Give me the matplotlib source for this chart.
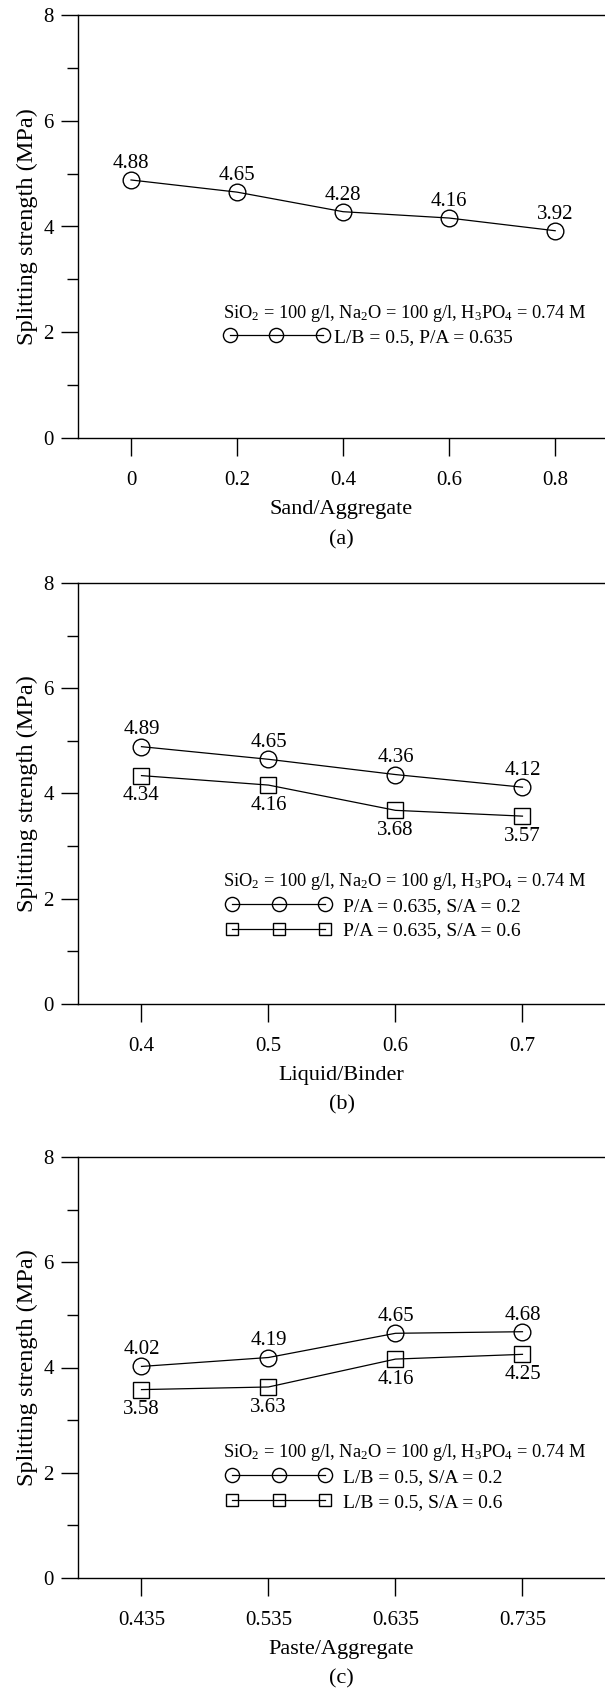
import matplotlib
matplotlib.use('Agg')
import matplotlib.pyplot as plt
from matplotlib.ticker import MultipleLocator

plt.rcParams['font.family'] = ['Liberation Serif', 'DejaVu Serif']
plt.rcParams['mathtext.fontset'] = 'custom'
plt.rcParams['mathtext.rm'] = 'Liberation Serif'
plt.rcParams['mathtext.it'] = 'Liberation Serif:italic'

# (a) Sand/Aggregate
sa_x = [0, 0.2, 0.4, 0.6, 0.8]
sa_y = [4.88, 4.65, 4.28, 4.16, 3.92]
sa_ticks = ['0', '0.2', '0.4', '0.6', '0.8']

# (b) Liquid/Binder
lb_x = [0.4, 0.5, 0.6, 0.7]
lb_s02 = [4.89, 4.65, 4.36, 4.12]
lb_s06 = [4.34, 4.16, 3.68, 3.57]
lb_ticks = ['0.4', '0.5', '0.6', '0.7']

# (c) Paste/Aggregate
pa_x = [0.435, 0.535, 0.635, 0.735]
pa_s02 = [4.02, 4.19, 4.65, 4.68]
pa_s06 = [3.58, 3.63, 4.16, 4.25]
pa_ticks = ['0.435', '0.535', '0.635', '0.735']

header = r'SiO$_2$ = 100 g/l, Na$_2$O = 100 g/l, H$_3$PO$_4$ = 0.74 M'

W, H = 605, 1692
fig = plt.figure(figsize=(W / 100, H / 100), dpi=100)

left = 78 / W
width = 1 - left
ax_a = fig.add_axes([left, 1 - 438 / H, width, 423 / H])
ax_b = fig.add_axes([left, 1 - 1004 / H, width, 421 / H])
ax_c = fig.add_axes([left, 1 - 1578 / H, width, 421 / H])

tick_fs = 15
note_fs = 15
leg_fs = 14
head_fs = 13.2

circ = dict(color='black', lw=0.9, marker='o', ms=12, mfc='none', mec='black', mew=1.0)
sq = dict(color='black', lw=0.9, marker='s', ms=11, mfc='none', mec='black', mew=1.0)


def style(ax, xs, labels, xlim, xlabel, tag):
    ax.set_xlim(*xlim)
    ax.set_ylim(0, 8)
    ax.spines['right'].set_visible(False)
    for s in ['left', 'top', 'bottom']:
        ax.spines[s].set_linewidth(1.0)
    ax.set_xticks(xs)
    ax.set_xticklabels(labels)
    ax.set_yticks([0, 2, 4, 6, 8])
    ax.yaxis.set_minor_locator(MultipleLocator(1))
    ax.tick_params(axis='x', direction='out', length=13, width=1.0, pad=11, labelsize=tick_fs)
    ax.tick_params(axis='y', which='major', direction='out', length=12.5, width=1.0, pad=5, labelsize=tick_fs)
    ax.tick_params(axis='y', which='minor', direction='out', length=8, width=1.0)
    ax.set_ylabel('Splitting strength (MPa)', fontsize=17.5, labelpad=4)
    ax.set_xlabel(xlabel, fontsize=16, labelpad=7)
    ax.text(0.5, -0.24, tag, transform=ax.transAxes, ha='center', va='center', fontsize=16)


def label(ax, xs, ys, above):
    for x, y in zip(xs, ys):
        off = 12 if above else -14.5
        ax.annotate(f'{y:.2f}', (x, y), xytext=(0, off), textcoords='offset points',
                    ha='center', va='center', fontsize=note_fs)


# (a)
ax_a.plot(sa_x, sa_y, label='L/B = 0.5, P/A = 0.635', **circ)
label(ax_a, sa_x, sa_y, True)
style(ax_a, sa_x, sa_ticks, (-0.1, 0.894), 'Sand/Aggregate', '(a)')
ax_a.text(0.275, 0.295, header, transform=ax_a.transAxes, ha='left', va='center', fontsize=head_fs)
ax_a.legend(loc='center left', bbox_to_anchor=(0.277, 0.239), frameon=False, numpoints=3,
            handlelength=5.4, handletextpad=0.25, borderpad=0, borderaxespad=0,
            fontsize=leg_fs, markerscale=0.85)

# (b)
ax_b.plot(lb_x, lb_s02, label='P/A = 0.635, S/A = 0.2', **circ)
ax_b.plot(lb_x, lb_s06, label='P/A = 0.635, S/A = 0.6', **sq)
label(ax_b, lb_x, lb_s02, True)
label(ax_b, lb_x, lb_s06, False)
style(ax_b, lb_x, lb_ticks, (0.35, 0.765), 'Liquid/Binder', '(b)')
ax_b.text(0.275, 0.29, header, transform=ax_b.transAxes, ha='left', va='center', fontsize=head_fs)
ax_b.legend(loc='center left', bbox_to_anchor=(0.281, 0.203), frameon=False, numpoints=3,
            handlelength=5.4, handletextpad=0.6, borderpad=0, borderaxespad=0,
            labelspacing=0.35, fontsize=leg_fs, markerscale=0.85)

# (c)
ax_c.plot(pa_x, pa_s02, label='L/B = 0.5, S/A = 0.2', **circ)
ax_c.plot(pa_x, pa_s06, label='L/B = 0.5, S/A = 0.6', **sq)
label(ax_c, pa_x, pa_s02, True)
label(ax_c, pa_x, pa_s06, False)
style(ax_c, pa_x, pa_ticks, (0.385, 0.80), 'Paste/Aggregate', '(c)')
ax_c.text(0.275, 0.297, header, transform=ax_c.transAxes, ha='left', va='center', fontsize=head_fs)
ax_c.legend(loc='center left', bbox_to_anchor=(0.281, 0.21), frameon=False, numpoints=3,
            handlelength=5.4, handletextpad=0.6, borderpad=0, borderaxespad=0,
            labelspacing=0.35, fontsize=leg_fs, markerscale=0.85)

fig.savefig('out.png', dpi=100)
